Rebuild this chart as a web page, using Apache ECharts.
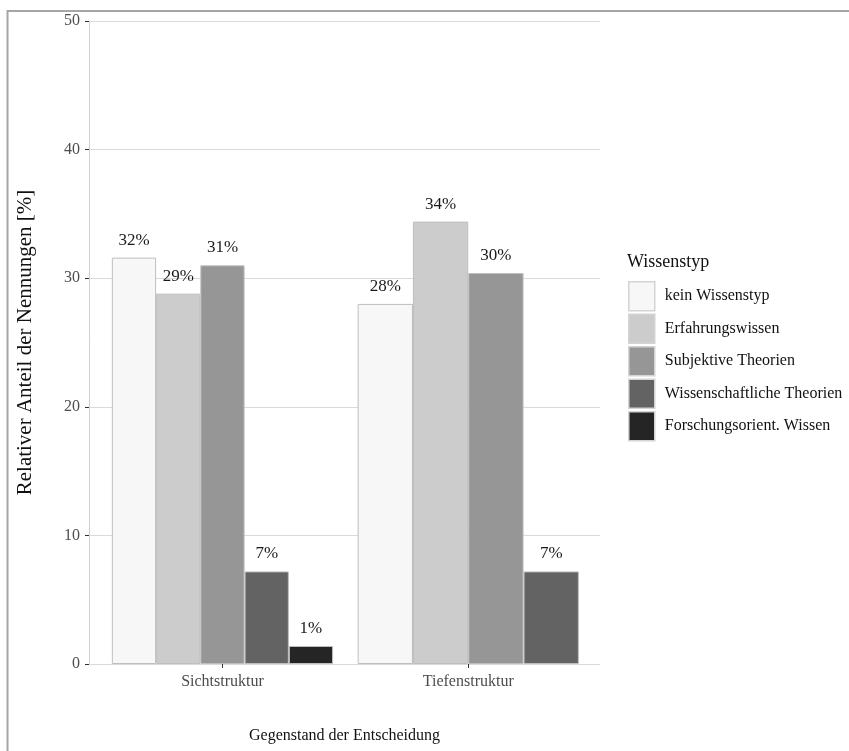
<!DOCTYPE html>
<html>
<head>
<meta charset="utf-8">
<script src="https://cdn.jsdelivr.net/npm/echarts@6/dist/echarts.min.js"></script>
<style>html,body{margin:0;padding:0;background:#fff;}#c{width:849px;height:751px;}</style>
</head>
<body>
<div id="c"></div>
<script>
const categories = ['Sichtstruktur', 'Tiefenstruktur'];
const types = ['kein Wissenstyp', 'Erfahrungswissen', 'Subjektive Theorien', 'Wissenschaftliche Theorien', 'Forschungsorient. Wissen'];
const sichtValues = [31.6, 28.8, 31.0, 7.2, 1.4];
const tiefValues = [28.0, 34.4, 30.4, 7.2];
const yTicks = [0, 10, 20, 30, 40, 50];
const colors = ['#f7f7f7', '#cccccc', '#969696', '#636363', '#252525'];

const FONT = 'Liberation Serif';
const chart = echarts.init(document.getElementById('c'), null, {renderer: 'canvas'});

function makeSeries(values, catIdx, axisIdx) {
  return values.map((v, i) => {
    const data = categories.map((c, k) => [k, k === catIdx ? v : '-']);
    return {
      name: types[i],
      type: 'bar',
      xAxisIndex: axisIdx,
      yAxisIndex: 0,
      data: data,
      barGap: '0%',
      barCategoryGap: '10%',
      itemStyle: {color: colors[i], borderColor: '#bebebe', borderWidth: 1},
      label: {
        show: true, position: 'top', distance: 9,
        formatter: p => Math.round(p.value[1]) + '%',
        fontFamily: FONT, fontSize: 17, color: '#1a1a1a'
      },
      emphasis: {disabled: true}
    };
  });
}

const xCommon = {
  type: 'value', gridIndex: 0, min: -0.543, max: 1.536,
  splitLine: {show: false}, axisLine: {show: false, onZero: false}
};

chart.setOption({
  animation: false,
  backgroundColor: '#ffffff',
  graphic: [{
    type: 'rect', silent: true, z: -1,
    shape: {x: 7.5, y: 11, width: 1000, height: 1000},
    style: {fill: 'none', stroke: '#a6a6a6', lineWidth: 2}
  }],
  title: {
    text: 'Wissenstyp', left: 627, top: 253, padding: 0,
    textStyle: {fontFamily: FONT, fontSize: 18, fontWeight: 'normal', color: '#111'}
  },
  legend: {
    orient: 'vertical', left: 628, top: 281, padding: 0,
    itemWidth: 26, itemHeight: 29, itemGap: 2, icon: 'rect',
    data: types,
    itemStyle: {borderColor: '#d4d4d4', borderWidth: 1.5},
    textStyle: {fontFamily: FONT, fontSize: 16, color: '#111', padding: [0, 0, 0, 5]}
  },
  grid: {left: 89, right: 249, top: 21, bottom: 87},
  xAxis: [
    Object.assign({}, xCommon, {
      name: 'Gegenstand der Entscheidung', nameLocation: 'middle', nameGap: 64,
      nameTextStyle: {fontFamily: FONT, fontSize: 16, color: '#111'},
      axisTick: {show: true, customValues: [0, 1], length: 4, lineStyle: {color: '#333'}},
      axisLabel: {show: true, customValues: [0, 1], margin: 10, formatter: v => categories[Math.round(v)] || '',
        fontFamily: FONT, fontSize: 16, color: '#4d4d4d'}
    }),
    Object.assign({}, xCommon, {show: false, axisTick: {show: false}, axisLabel: {show: false}})
  ],
  yAxis: {
    type: 'value', min: yTicks[0], max: yTicks[yTicks.length - 1], interval: 10,
    name: 'Relativer Anteil der Nennungen [%]', nameLocation: 'middle', nameGap: 53,
    nameTextStyle: {fontFamily: FONT, fontSize: 21, color: '#111'},
    axisLine: {show: true, onZero: false, lineStyle: {color: '#d0d0d0'}},
    axisTick: {show: true, length: 4, lineStyle: {color: '#333'}},
    axisLabel: {margin: 9, fontFamily: FONT, fontSize: 16, color: '#4d4d4d'},
    splitLine: {show: true, lineStyle: {color: '#dadada', width: 1}}
  },
  series: makeSeries(sichtValues, 0, 0).concat(makeSeries(tiefValues, 1, 1))
});
</script>
</body>
</html>
